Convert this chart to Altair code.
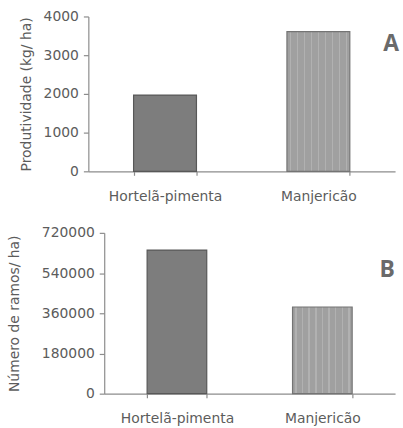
import altair as alt
import pandas as pd

# Produtividade e número de ramos por cultura
culturas = ["Hortelã-pimenta", "Manjericão"]
produtividade = [1970, 3610]      # kg/ha
ramos = [643000, 388000]          # ramos/ha
produtividade_ticks = [0, 1000, 2000, 3000, 4000]
ramos_ticks = [0, 180000, 360000, 540000, 720000]

COR_HORTELA = "#7d7d7d"
contorno = ["#585858", "#747474"]

# Listras verticais claras no preenchimento do manjericão
listras = []
n_listras = 9
for i in range(n_listras):
    a = i / n_listras
    b = (i + 0.4) / n_listras
    c = (i + 0.62) / n_listras
    d = (i + 1) / n_listras
    listras += [
        {"offset": a, "color": "#a0a0a0"}, {"offset": b, "color": "#a0a0a0"},
        {"offset": b, "color": "#b1b1b1"}, {"offset": c, "color": "#b1b1b1"},
        {"offset": c, "color": "#a0a0a0"}, {"offset": d, "color": "#a0a0a0"},
    ]
GRADIENTE_MANJERICAO = {"gradient": "linear", "x1": 0, "x2": 1, "y1": 0, "y2": 0,
                        "stops": listras}

dados = pd.DataFrame({"cultura": culturas,
                      "produtividade": produtividade,
                      "ramos": ramos})

FONTE = "DejaVu Sans"
COR_TEXTO = "#5c5c5c"
COR_EIXO = "#8c8c8c"
LARGURA = 309


def painel(campo, titulo, dominio, ticks, altura, inicio_x,
           pad_titulo, pad_rotulo_x, letra, letra_x, letra_y):
    x = alt.X("cultura:N", sort=culturas, title=None,
              scale=alt.Scale(range=[inicio_x, LARGURA], paddingInner=0.59,
                              paddingOuter=0.295),
              axis=alt.Axis(labelAngle=0, tickBand="extent", tickSize=4,
                            labelPadding=pad_rotulo_x))
    eixo_y = dict(values=ticks, format="d", tickSize=5, labelPadding=5,
                  titlePadding=pad_titulo, grid=False)
    if inicio_x:
        eixo_y["offset"] = -inicio_x
    y = alt.Y(f"{campo}:Q", title=titulo,
              scale=alt.Scale(domain=dominio, nice=False, zero=True),
              axis=alt.Axis(**eixo_y))
    barras = alt.Chart(dados).mark_bar(strokeWidth=1.2).encode(
        x=x, y=y,
        fill=alt.condition(alt.datum.cultura == culturas[1],
                           alt.value(GRADIENTE_MANJERICAO), alt.value(COR_HORTELA)),
        stroke=alt.Stroke("cultura:N", scale=alt.Scale(domain=culturas, range=contorno),
                          legend=None),
    )
    rotulo = alt.Chart(pd.DataFrame({"painel": [letra]})).mark_text(
        font="Open Sans", fontWeight="bold", fontSize=23, color="#6a6a6a",
        align="center", baseline="middle",
    ).encode(text="painel:N", x=alt.value(letra_x), y=alt.value(letra_y))
    return alt.layer(barras, rotulo).properties(width=LARGURA, height=altura)


topo = painel("produtividade", "Produtividade (kg/ ha)", [0, 4000], produtividade_ticks,
              156, 0, 10, 14, "A", 305, 28)
base = painel("ramos", "Número de ramos/ ha)", [0, 720000], ramos_ticks,
              162, 16, 20, 14, "B", 301, 37)

chart = alt.vconcat(topo, base, spacing=23).properties(
    padding={"left": 7, "top": 8, "right": 4, "bottom": 2},
).configure_view(stroke=None).configure_axis(
    labelFont=FONTE, titleFont=FONTE, labelFontSize=14, titleFontSize=14,
    labelColor=COR_TEXTO, titleColor=COR_TEXTO, titleFontWeight="normal",
    domainColor=COR_EIXO, tickColor=COR_EIXO, domainWidth=1.2, tickWidth=1.2,
)

chart.save("out.html", embed_options={"renderer": "svg", "actions": False})
